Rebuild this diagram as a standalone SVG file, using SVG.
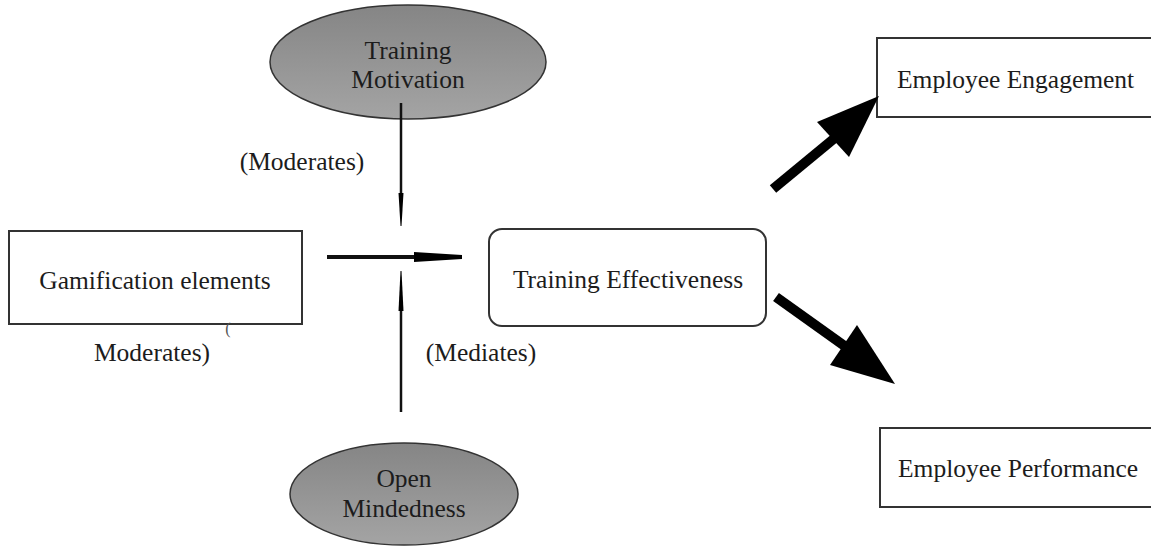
<svg xmlns="http://www.w3.org/2000/svg" width="1151" height="546" viewBox="0 0 1151 546">
<defs>
<linearGradient id="gray" x1="0" y1="0" x2="0" y2="1">
<stop offset="0" stop-color="#858585"/>
<stop offset="1" stop-color="#a4a4a4"/>
</linearGradient>
</defs>
<style>
text{font-family:"Liberation Serif","Times New Roman",serif;font-size:25.5px;fill:#1c1c1c}
.box{fill:#fff;stroke:#333;stroke-width:2}
.ell{fill:url(#gray);stroke:#333;stroke-width:1.5}
.thin{stroke:#111;stroke-width:2.5;fill:none}
.thick{stroke:#000;stroke-width:10;fill:none}
.head{fill:#000}
</style>
<rect width="1151" height="546" fill="#fff"/>
<g id="training-motivation">
<ellipse class="ell" cx="408" cy="62" rx="138" ry="57"/>
<text x="408" y="59" text-anchor="middle">Training</text>
<text x="408" y="88" text-anchor="middle">Motivation</text>
</g>
<g id="gamification">
<rect class="box" x="9" y="231" width="293" height="93"/>
<text x="155" y="289" text-anchor="middle">Gamification elements</text>
</g>
<g id="training-effectiveness">
<rect class="box" x="489" y="229" width="277" height="97" rx="13"/>
<text x="628" y="288" text-anchor="middle">Training Effectiveness</text>
</g>
<g id="open-mindedness">
<ellipse class="ell" cx="404" cy="494" rx="114" ry="51"/>
<text x="404" y="487" text-anchor="middle">Open</text>
<text x="404" y="517" text-anchor="middle">Mindedness</text>
</g>
<g id="employee-engagement">
<rect class="box" x="877" y="38" width="290" height="79"/>
<text x="897" y="88">Employee Engagement</text>
</g>
<g id="employee-performance">
<rect class="box" x="880" y="428" width="290" height="79"/>
<text x="898" y="477">Employee Performance</text>
</g>
<g id="connectors">
<line class="thin" x1="401" y1="103" x2="401" y2="196"/>
<polygon class="head" points="398.5,193 403.5,193 401.5,226 400.5,226"/>
<line class="thin" x1="327" y1="257" x2="416" y2="257" style="stroke-width:4"/>
<polygon class="head" points="414,252 414,262 462,259 462,255"/>
<line class="thin" x1="401" y1="308" x2="401" y2="412"/>
<polygon class="head" points="398.5,311 403.5,311 401.5,271 400.5,271"/>
<line class="thick" x1="773" y1="189" x2="836" y2="137"/>
<polygon class="head" points="879,96 849,157 817,122"/>
<line class="thick" x1="776" y1="297" x2="846" y2="347"/>
<polygon class="head" points="895,384 857,325 830,365"/>
</g>
<g id="labels">
<text x="302" y="170" text-anchor="middle">(Moderates)</text>
<text x="152" y="361" text-anchor="middle">Moderates)</text>
<text x="481" y="361" text-anchor="middle">(Mediates)</text>
<text x="228" y="334" text-anchor="middle" style="font-size:16px;fill:#555">(</text>
</g>
</svg>
